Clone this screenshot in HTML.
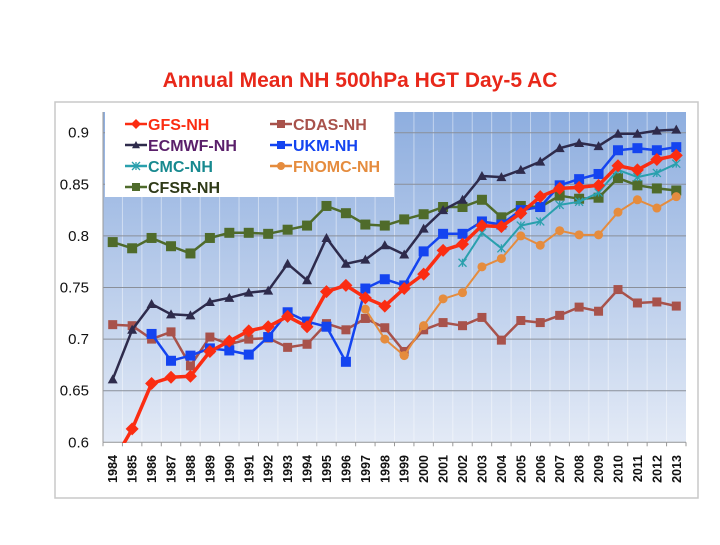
<!DOCTYPE html>
<html><head><meta charset="utf-8"><style>
body{margin:0;background:#fff;width:720px;height:540px;overflow:hidden;font-family:"Liberation Sans",sans-serif}
</style></head><body>
<svg id="chart" width="720" height="540" xmlns="http://www.w3.org/2000/svg">
<defs>
<linearGradient id="bg" x1="0" y1="0" x2="0" y2="1">
<stop offset="0" stop-color="#8eaedf"/><stop offset="1" stop-color="#e3eaf6"/>
</linearGradient>
<clipPath id="clip"><rect x="103" y="112" width="583" height="331"/></clipPath>
</defs>
<text x="360" y="87" text-anchor="middle" font-size="21" font-weight="bold" fill="#e8281a">Annual Mean NH 500hPa HGT Day-5 AC</text>
<rect x="55" y="102" width="643" height="396" fill="#fff" stroke="#c8c8c8" stroke-width="1.5"/>
<rect x="103" y="112" width="583" height="331" fill="url(#bg)"/>
<g id="grid"></g>
<g id="axes"></g>
<g id="series" clip-path="url(#clip)"></g>
<g id="legend"></g>
</svg>
<script>
const years = [1984,1985,1986,1987,1988,1989,1990,1991,1992,1993,1994,1995,1996,1997,1998,1999,2000,2001,2002,2003,2004,2005,2006,2007,2008,2009,2010,2011,2012,2013];
const yTicks = [0.6,0.65,0.7,0.75,0.8,0.85,0.9];
const gfs = [0.58,0.613,0.657,0.663,0.664,0.688,0.698,0.708,0.712,0.722,0.712,0.746,0.752,0.740,0.732,0.749,0.763,0.786,0.792,0.810,0.809,0.822,0.838,0.846,0.847,0.849,0.868,0.864,0.874,0.878];
const cdas = [0.714,0.713,0.700,0.707,0.674,0.702,0.695,0.700,0.701,0.692,0.695,0.715,0.709,0.720,0.711,0.688,0.709,0.716,0.713,0.721,0.699,0.718,0.716,0.723,0.731,0.727,0.748,0.735,0.736,0.732];
const ecmwf = [0.661,0.709,0.734,0.724,0.723,0.736,0.740,0.745,0.747,0.773,0.757,0.798,0.773,0.777,0.791,0.782,0.807,0.825,0.835,0.858,0.857,0.864,0.872,0.885,0.890,0.887,0.899,0.899,0.902,0.903];
const ukm = [null,null,0.705,0.679,0.684,0.691,0.689,0.685,0.702,0.726,0.717,0.712,0.678,0.749,0.758,0.752,0.785,0.802,0.802,0.814,0.811,0.825,0.828,0.849,0.855,0.860,0.883,0.885,0.883,0.886];
const cmc = [null,null,null,null,null,null,null,null,null,null,null,null,null,null,null,null,null,null,0.774,0.803,0.788,0.810,0.814,0.830,0.833,0.842,0.864,0.857,0.861,0.870];
const fnomc = [null,null,null,null,null,null,null,null,null,null,null,null,null,0.729,0.700,0.684,0.713,0.739,0.745,0.770,0.778,0.800,0.791,0.805,0.801,0.801,0.823,0.835,0.827,0.838];
const cfsr = [0.794,0.788,0.798,0.790,0.783,0.798,0.803,0.803,0.802,0.806,0.810,0.829,0.822,0.811,0.810,0.816,0.821,0.828,0.828,0.835,0.818,0.829,0.828,0.839,0.836,0.837,0.856,0.849,0.846,0.844];

const NS='http://www.w3.org/2000/svg';
const L=103,R=686,T=112,B=442.3;
const bw=(R-L)/years.length;
function xPos(i){return L+bw*(i+0.5);}
function yPos(v){return B-(v-0.6)*(B-132.7)/0.3;}
function mk(tag,attrs,parent){const e=document.createElementNS(NS,tag);for(const k in attrs)e.setAttribute(k,attrs[k]);parent.appendChild(e);return e;}
const grid=document.getElementById('grid'),axes=document.getElementById('axes'),ser=document.getElementById('series'),leg=document.getElementById('legend');

for(let i=1;i<years.length;i++){
  const g=mk('line',{x1:L+bw*i,x2:L+bw*i,y1:T,y2:B,stroke:'#ffffff','stroke-opacity':0.45,'stroke-width':1},grid);
  
  
}
yTicks.forEach(v=>{
  const y=yPos(v);
  if(v>0.6){const g=mk('line',{x1:L,x2:R,y1:y,y2:y,stroke:'#8a8f99','stroke-width':1},grid);
  
  }
  const t=mk('text',{x:89,y:y+5,'text-anchor':'end','font-size':15,fill:'#111'},axes);
  t.textContent=String(v);
  
  
});
const ax=mk('line',{x1:L,x2:R,y1:B,y2:B,stroke:'#999','stroke-width':1},axes);


const ay=mk('line',{x1:L,x2:L,y1:T,y2:B,stroke:'#999','stroke-width':1},axes);


for(let i=0;i<=years.length;i++){
  const tk=mk('line',{x1:L+bw*i,x2:L+bw*i,y1:B,y2:B+4,stroke:'#999'},axes);
  
  
}
years.forEach((yr,i)=>{
  const x=xPos(i);
  const t=mk('text',{x:0,y:0,transform:`translate(${x+4.5},${455}) rotate(-90)`,'text-anchor':'end','font-size':12.5,'font-weight':'bold',fill:'#111'},axes);
  t.textContent=yr;
  
  
});

function marker(type,x,y,color,size,parent){
  if(type==='diamond')return mk('polygon',{points:`${x},${y-size} ${x+size},${y} ${x},${y+size} ${x-size},${y}`,fill:color},parent);
  if(type==='square')return mk('rect',{x:x-size,y:y-size,width:size*2,height:size*2,fill:color},parent);
  if(type==='triangle')return mk('polygon',{points:`${x},${y-size} ${x+size},${y+size*0.8} ${x-size},${y+size*0.8}`,fill:color},parent);
  if(type==='circle')return mk('circle',{cx:x,cy:y,r:size,fill:color},parent);
  if(type==='x')return mk('path',{d:`M${x-size},${y-size}L${x+size},${y+size}M${x-size},${y+size}L${x+size},${y-size}M${x},${y-size}L${x},${y+size}`,stroke:color,'stroke-width':1.3,fill:'none'},parent);
}
const defs=[
 {name:'cfsr',label:'CFSR-NH',data:cfsr,color:'#4f6b2b',w:2.5,m:'square',s:5,lc:'#2f3a17'},
 {name:'cdas',label:'CDAS-NH',data:cdas,color:'#a8524b',w:2.5,m:'square',s:4.5,lc:'#a8524b'},
 {name:'fnomc',label:'FNOMC-NH',data:fnomc,color:'#e58c3e',w:2,m:'circle',s:4.5,lc:'#e58c3e'},
 {name:'cmc',label:'CMC-NH',data:cmc,color:'#2aa0ad',w:2,m:'x',s:4,lc:'#17898f'},
 {name:'ecmwf',label:'ECMWF-NH',data:ecmwf,color:'#2e2b4c',w:2.5,m:'triangle',s:5,lc:'#5a1f6a'},
 {name:'ukm',label:'UKM-NH',data:ukm,color:'#1444f0',w:2.5,m:'square',s:5,lc:'#1444f0'},
 {name:'gfs',label:'GFS-NH',data:gfs,color:'#fb2d12',w:3.5,m:'diamond',s:6.5,lc:'#fb2d12'}
];
defs.forEach(d=>{
  const g=mk('g',{},ser);
  
  
  let p='';
  d.data.forEach((v,i)=>{if(v==null)return;p+=(p?'L':'M')+xPos(i).toFixed(1)+','+yPos(v).toFixed(1);});
  const pl=mk('path',{d:p,fill:'none',stroke:d.color,'stroke-width':d.w,'stroke-linejoin':'round'},g);
  
  
  d.data.forEach((v,i)=>{if(v==null)return;
    const m=marker(d.m,xPos(i),yPos(v),d.color,d.s,g);
    
    
  });
});
// legend
const lb=mk('rect',{x:105,y:112,width:289,height:85,fill:'#fff'},leg);


const order=['gfs','cdas','ecmwf','ukm','cmc','fnomc','cfsr'];
order.forEach((n,k)=>{
  const d=defs.find(z=>z.name===n);
  const col=k%2,row=Math.floor(k/2);
  const x0=col?270:125,y0=124+row*21;
  const g=mk('g',{},leg);
  
  
  mk('line',{x1:x0,x2:x0+22,y1:y0,y2:y0,stroke:d.color,'stroke-width':2.5},g);
  marker(d.m,x0+11,y0,d.color,d.m==='diamond'?5:4,g);
  const t=mk('text',{x:x0+23,y:y0+6,'font-size':16,'font-weight':'bold',fill:d.lc},g);
  t.textContent=d.label;
});
</script>
</body></html>
